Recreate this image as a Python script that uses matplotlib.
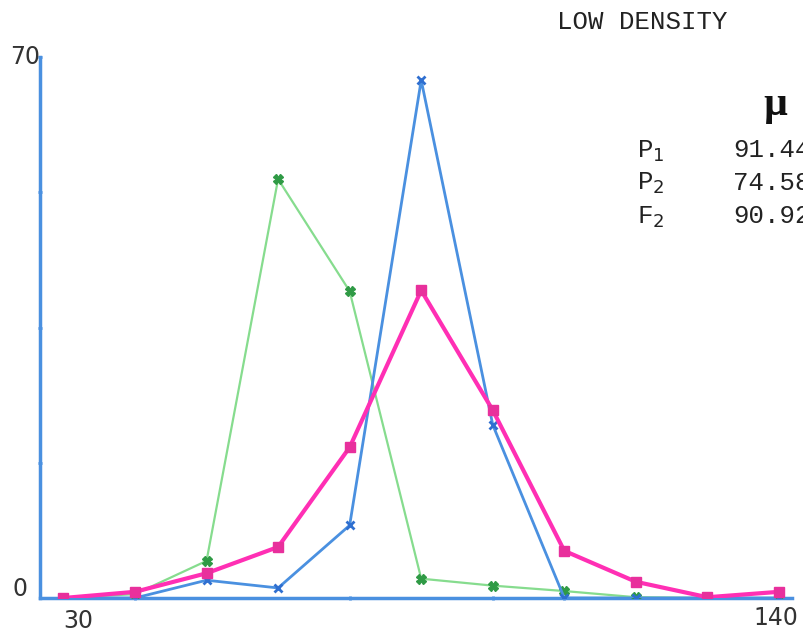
import numpy as np
import matplotlib.pyplot as plt

# x classes (30 .. 140 in steps of 11)
x_vals = [30, 41, 52, 63, 74, 85, 96, 107, 118, 129, 140]

# frequencies
p1_vals = [0, 0, 2.3, 1.3, 9.4, 67.0, 22.4, 0, 0, 0, 0]        # blue
p2_vals = [0, 0.5, 4.8, 54.2, 39.7, 2.5, 1.6, 0.9, 0.1, 0, 0]   # green
f2_vals = [0, 0.8, 3.2, 6.6, 19.5, 39.8, 24.3, 6.1, 2.1, 0.1, 0.8]  # magenta

table_labels = ['P$_1$', 'P$_2$', 'F$_2$']
table_means = ['91.44', '74.58', '90.92']

blue = '#4a90e0'
green = '#86dc8e'
magenta = '#ff2fb4'

fig = plt.figure(figsize=(8.04, 6.34), dpi=100)
ax = fig.add_axes([40 / 804, 36 / 634, 752 / 804, 541 / 634])

ax.plot(x_vals, p2_vals, color=green, lw=1.6, marker='X', ms=7,
        mfc='#2f9a45', mec='#2f9a45', zorder=3)
ax.plot(x_vals, p1_vals, color=blue, lw=2.0, marker='x', ms=6,
        mew=2, mec='#2f6fd0', zorder=4)
ax.plot(x_vals, f2_vals, color=magenta, lw=3, marker='s', ms=7,
        mfc='#e8309c', mec='#e8309c', zorder=5)

ax.set_xlim(26.4, 142)
ax.set_ylim(0, 70)

for s in ['top', 'right']:
    ax.spines[s].set_visible(False)
for s in ['left', 'bottom']:
    ax.spines[s].set_color(blue)
    ax.spines[s].set_linewidth(2.5)

ax.set_yticks([17.5, 35, 52.5, 70])
ax.set_xticks([41, 74, 96, 107])
ax.tick_params(axis='both', colors=blue, length=3, width=2, direction='inout',
               labelleft=False, labelbottom=False)

# axis end labels
lab = dict(fontsize=17, color='#333333', family='DejaVu Sans')
ax.text(0.0, 1.0, '70', transform=ax.transAxes, ha='right', va='center', **lab)
ax.text(-0.016, 0.016, '0', transform=ax.transAxes, ha='right', va='center', **lab)
ax.text(0.051, -0.042, '30', transform=ax.transAxes, ha='center', va='center', **lab)
ax.text(0.979, -0.037, '140', transform=ax.transAxes, ha='center', va='center', **lab)

# title and table of means (runs off the right edge like the original)
mono = dict(family='Liberation Mono', fontsize=18.5, color='#222222')
fig.text(557 / 804, 1 - 22 / 634, 'LOW DENSITY', ha='left', va='center', **mono)
fig.text(763 / 804, 1 - 105 / 634, 'µ', ha='left', va='center',
         family='Liberation Serif', fontsize=30, fontweight='bold', color='#111111')
for i, (name, mean) in enumerate(zip(table_labels, table_means)):
    y = 1 - (157 + 33 * i) / 634
    fig.text(637 / 804, y, name, ha='left', va='baseline', **mono)
    fig.text(733 / 804, y, mean, ha='left', va='baseline', **mono)

fig.savefig('out.png', dpi=100)
